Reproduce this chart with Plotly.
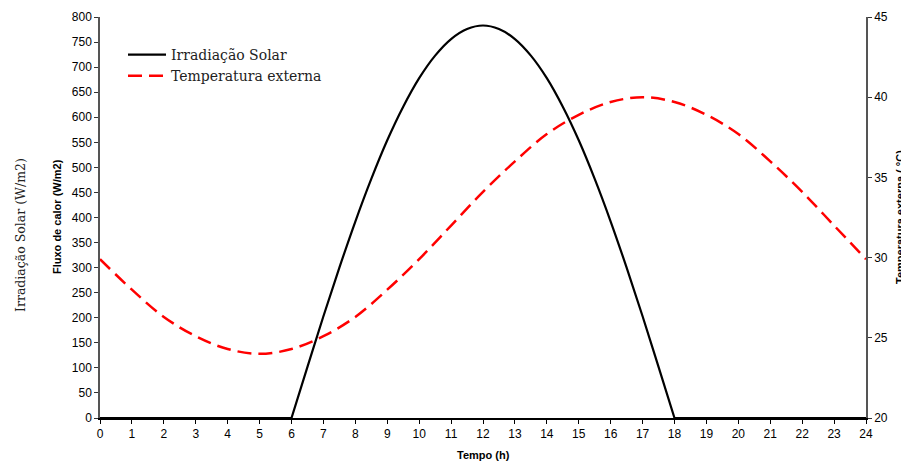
import plotly.graph_objects as go

# Data
hours_solar = [0, 6, 6.5, 7, 7.5, 8, 8.5, 9, 9.5, 10, 10.5, 11, 11.5, 12,
               12.5, 13, 13.5, 14, 14.5, 15, 15.5, 16, 16.5, 17, 17.5, 18, 24]
irradiacao = [0, 0, 102, 203, 300, 392, 477, 554, 621, 678, 723, 756, 776, 783,
              776, 756, 723, 678, 621, 554, 477, 392, 300, 203, 102, 0, 0]

hours_temp = list(range(0, 25))
temperatura = [29.9, 28.0, 26.3, 25.1, 24.3, 24.0, 24.3, 25.1, 26.3, 28.0, 29.9,
               32.0, 34.1, 36.0, 37.7, 38.9, 39.7, 40.0, 39.7, 38.9, 37.7, 36.0,
               34.1, 32.0, 29.9]

x_ticks = list(range(0, 25))
y_left_ticks = list(range(0, 801, 50))
y_right_ticks = list(range(20, 46, 5))

sans = "Liberation Sans, Arial, sans-serif"
serif = "DejaVu Serif, serif"

# page body has an 8px margin; figure is sized so the window shows it all
OFF = 8
W, H = 909 - OFF, 463 - OFF
pl, pr, pt, pb = 100 - OFF, 866 - OFF, 17 - OFF, 418 - OFF
pw, ph = pr - pl, pb - pt


def px(x, y):
    """window pixel -> paper coords"""
    return (x - OFF - pl) / pw, (pb - (y - OFF)) / ph


# split the solar series: flat night parts (straight) and the day arch (smooth)
i6 = hours_solar.index(6)
i18 = hours_solar.index(18)
parts = [
    (hours_solar[:i6 + 1], irradiacao[:i6 + 1], "linear", False),
    (hours_solar[i6:i18 + 1], irradiacao[i6:i18 + 1], "spline", True),
    (hours_solar[i18:], irradiacao[i18:], "linear", False),
]

fig = go.Figure()
for xs, ys, shape, show in parts:
    fig.add_trace(go.Scatter(
        x=xs, y=ys, mode="lines", name="Irradiação Solar", legendgroup="sol",
        showlegend=show,
        line=dict(color="black", width=2.2, shape=shape), yaxis="y", xaxis="x"))
fig.add_trace(go.Scatter(
    x=hours_temp, y=temperatura, mode="lines", name="Temperatura externa",
    line=dict(color="#ff0000", width=2.5, dash="14px,7px", shape="spline", smoothing=1),
    yaxis="y2", xaxis="x"))

axis_common = dict(showgrid=False, zeroline=False, tickfont=dict(family=sans, size=12, color="black"))

annotations = []
for text, (wx, wy), angle, fnt in [
    ("Irradiação Solar (W/m2)", (20, 235), -90, dict(family=serif, size=12.5, color="#222")),
    ("<b>Fluxo de calor (W/m2)</b>", (57, 217), -90, dict(family=sans, size=11, color="black")),
    ("<b>Temperatura externa ( °C)</b>", (900, 217), -90, dict(family=sans, size=11, color="black")),
    ("<b>Tempo (h)</b>", (483, 455), 0, dict(family=sans, size=11, color="black")),
]:
    ax_, ay_ = px(wx, wy)
    annotations.append(dict(text=text, x=ax_, y=ay_, xref="paper", yref="paper",
                            xanchor="center", yanchor="middle", showarrow=False,
                            textangle=angle, font=fnt))

lx, ly = px(123, 39)

fig.update_layout(
    width=W, height=H,
    margin=dict(l=pl, r=W - pr, t=pt, b=H - pb, autoexpand=False),
    paper_bgcolor="white", plot_bgcolor="white",
    showlegend=True,
    legend=dict(x=lx, y=ly, xanchor="left", yanchor="top",
                bgcolor="rgba(0,0,0,0)", font=dict(family=serif, size=14, color="#222"),
                tracegroupgap=0, itemwidth=38, traceorder="normal"),
    xaxis=dict(range=[0, 24], tickvals=x_ticks, ticktext=[str(v) for v in x_ticks],
               ticks="outside", ticklen=4, tickcolor="black", tickwidth=1,
               showline=True, linecolor="black", linewidth=1.5, **axis_common),
    xaxis2=dict(range=[0, 24], overlaying="x", matches="x", side="bottom",
                tickvals=x_ticks, ticks="inside", ticklen=4, tickcolor="black",
                showticklabels=False, showline=False, showgrid=False, zeroline=False),
    yaxis=dict(range=[0, 800], tickvals=y_left_ticks, ticktext=[str(v) for v in y_left_ticks],
               ticks="outside", ticklen=4, tickcolor="#333", tickwidth=1,
               showline=True, linecolor="#555", linewidth=1.5, **axis_common),
    yaxis3=dict(range=[0, 800], overlaying="y", side="left", tickvals=y_left_ticks,
                ticks="inside", ticklen=3, tickcolor="#333", showticklabels=False,
                showline=False, showgrid=False, zeroline=False),
    yaxis2=dict(range=[20, 45], overlaying="y", side="right", tickvals=y_right_ticks,
                ticktext=[str(v) for v in y_right_ticks],
                ticks="outside", ticklen=4, tickcolor="#333", tickwidth=1,
                showline=True, linecolor="#555", linewidth=1.5, **axis_common),
    yaxis4=dict(range=[20, 45], overlaying="y", side="right", tickvals=y_right_ticks,
                ticks="inside", ticklen=3, tickcolor="#333", showticklabels=False,
                showline=False, showgrid=False, zeroline=False),
    annotations=annotations,
)

fig.write_html("out.html")
